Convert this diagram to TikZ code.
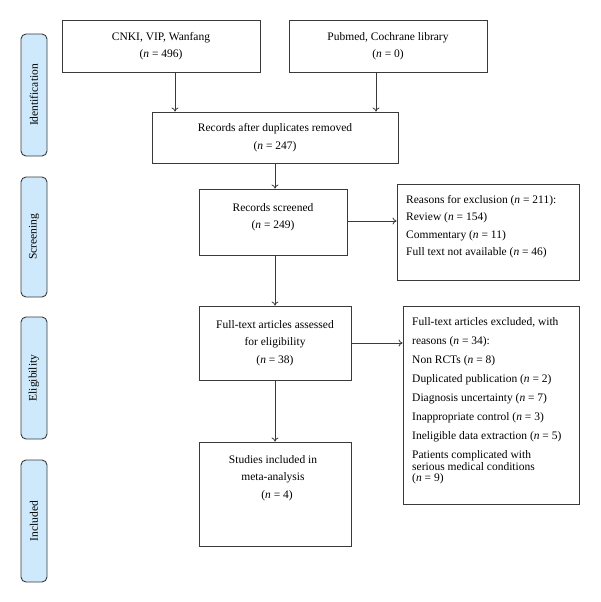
\documentclass[tikz,border=0pt]{standalone}
\usepackage{fontspec}
\setmainfont{Liberation Serif}
\usetikzlibrary{arrows.meta}
\definecolor{linegray}{HTML}{3A3A3A}
\definecolor{stagefill}{HTML}{CDE9FB}
\newcommand{\nn}{\textit{n}}
\tikzset{
  box/.style={draw=linegray, line width=0.9pt, inner sep=0pt, align=center},
  stage/.style={draw=linegray, line width=0.9pt, fill=stagefill, rounded corners=5pt,
    minimum width=26pt, inner sep=0pt},
  stagetext/.style={rotate=90, font=\fontsize{11.5}{13}\selectfont},
  txt/.style={font=\fontsize{11.5}{17.5}\selectfont, inner sep=0pt},
  conn/.style={draw=linegray, line width=0.8pt, -{To[length=4pt,width=7pt]}},
}
\begin{document}
\begin{tikzpicture}[x=1pt,y=-1pt]
\useasboundingbox (0,0) rectangle (600,602);
% stage labels
\node[stage, minimum height=122pt] (s1) at (34,95) {};
\node[stagetext] (s1t) at (34,95) {Identification};
\node[stage, minimum height=120pt] (s2) at (34,237) {};
\node[stagetext] (s2t) at (34,237) {Screening};
\node[stage, minimum height=122pt] (s3) at (34,378) {};
\node[stagetext] (s3t) at (34,378) {Eligibility};
\node[stage, minimum height=122pt] (s4) at (34,521) {};
\node[stagetext] (s4t) at (34,521) {Included};
% boxes
\node[box, txt, minimum width=198pt, minimum height=52pt] (cnki) at (161,46)
  {CNKI, VIP, Wanfang\\(\nn{} = 496)};
\node[box, txt, minimum width=198pt, minimum height=52pt] (pub) at (388,46)
  {Pubmed, Cochrane library\\(\nn{} = 0)};
\node[box, txt, minimum width=246pt, minimum height=51pt] (dup) at (275,137.5)
  {Records after duplicates removed\\(\nn{} = 247)};
\node[box, minimum width=148pt, minimum height=66pt] (scr) at (273,222) {};
\node[txt, align=center, anchor=north] (scrt) at (273,203)
  {Records screened\\(\nn{} = 249)};
\node[box, minimum width=182pt, minimum height=96pt] (rea) at (488,232) {};
\node[txt, align=left, anchor=north west] (reat) at (406,195)
  {Reasons for exclusion (\nn{} = 211):\\Review (\nn{} = 154)\\Commentary (\nn{} = 11)\\Full text not available (\nn{} = 46)};
\node[box, txt, minimum width=152pt, minimum height=74pt] (ft) at (275,343)
  {Full-text articles assessed\\for eligibility\\(\nn{} = 38)};
\node[box, minimum width=176pt, minimum height=198pt] (exc) at (491,405) {};
\node[txt, align=left, anchor=north west, font=\fontsize{11.5}{19}\selectfont] (exct) at (412,317)
  {Full-text articles excluded, with\\reasons (\nn{} = 34):\\Non RCTs (\nn{} = 8)\\Duplicated publication (\nn{} = 2)\\Diagnosis uncertainty (\nn{} = 7)\\Inappropriate control (\nn{} = 3)\\Ineligible data extraction (\nn{} = 5)\\Patients complicated with\\[-7pt]serious medical conditions\\[-8pt](\nn{} = 9)};
\node[box, minimum width=152pt, minimum height=104pt] (inc) at (275,494) {};
\node[txt, align=center, anchor=north] (inct) at (273,455)
  {Studies included in\\meta-analysis\\\hspace*{8pt}(\nn{} = 4)};
% connectors
\draw[conn] (cnki.south -| 175,0) -- (dup.north -| 175,0);
\draw[conn] (pub.south -| 376,0) -- (dup.north -| 376,0);
\draw[conn] (dup.south) -- (scr.north -| dup.south);
\draw[conn] (scr.south -| dup.south) -- (ft.north);
\draw[conn] (scr.east |- 0,221) -- (rea.west |- 0,221);
\draw[conn] (ft.east) -- (exc.west |- ft.east);
\draw[conn] (ft.south) -- (inc.north);
\end{tikzpicture}
\end{document}
